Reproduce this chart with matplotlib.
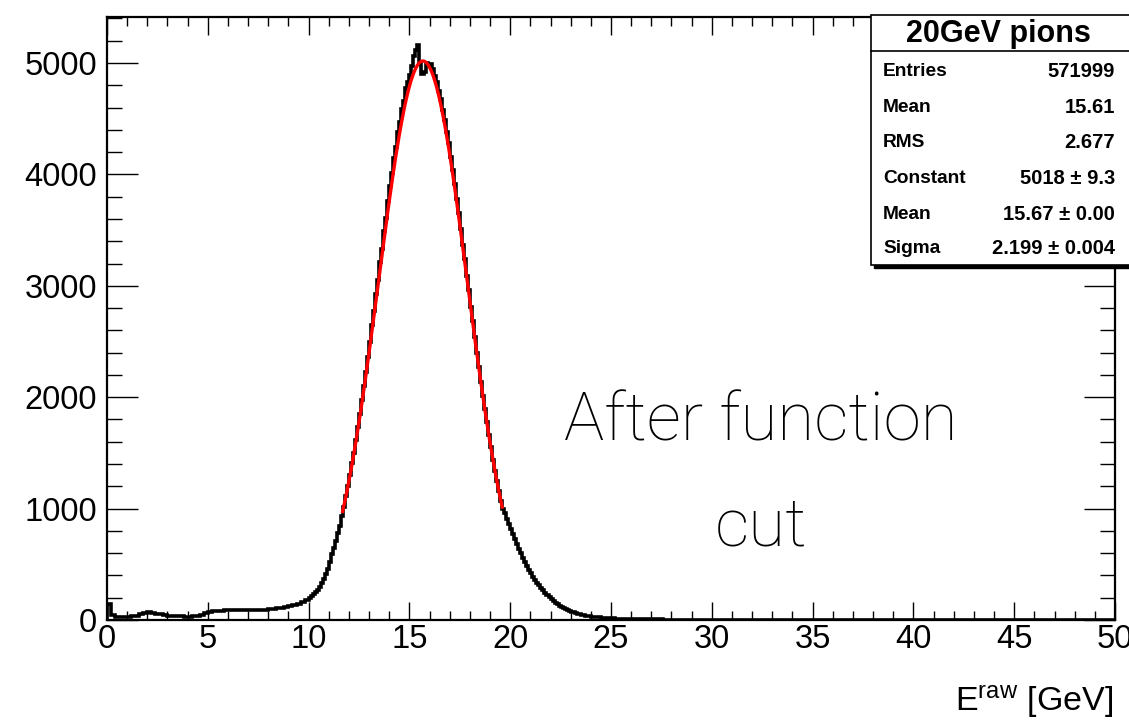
import numpy as np
import matplotlib
matplotlib.use("Agg")
import matplotlib.pyplot as plt
from matplotlib.patches import Rectangle
from matplotlib.lines import Line2D
from matplotlib.ticker import MultipleLocator

plt.rcParams['font.family'] = ['Liberation Sans', 'DejaVu Sans']
plt.rcParams['mathtext.fontset'] = 'custom'
plt.rcParams['mathtext.rm'] = 'Liberation Sans'
plt.rcParams['mathtext.it'] = 'Liberation Sans'

# ---- data: E_raw histogram ----
# 0-10 GeV, 0.2 GeV bins
counts_low = [
    140, 45, 28, 25, 26,        # 0-1
    28, 32, 38, 50, 64,         # 1-2
    68, 66, 58, 50, 44,         # 2-3
    40, 37, 35, 32, 30,         # 3-4
    30, 32, 38, 46, 60,         # 4-5
    72, 78, 82, 84, 86,         # 5-6
    88, 90, 88, 90, 92,         # 6-7
    90, 91, 93, 92, 94,         # 7-8
    96, 100, 106, 112, 120,     # 8-9
    128, 138, 148, 162, 180,    # 9-10
]
# 10-25 GeV, 0.1 GeV bins
counts_mid = [
    200, 212, 232, 250, 272, 298, 330, 368, 412, 460,             # 10-11
    520, 590, 650, 712, 780, 845, 930, 1015, 1115, 1205,          # 11-12
    1300, 1405, 1500, 1620, 1730, 1850, 1975, 2100, 2230, 2365,   # 12-13
    2500, 2650, 2770, 2930, 3050, 3210, 3330, 3490, 3610, 3760,   # 13-14
    3900, 4010, 4150, 4250, 4380, 4470, 4590, 4660, 4780, 4830,   # 14-15
    4890, 4970, 5060, 5120, 5160, 4990, 4900, 4920, 5000, 4990,   # 15-16
    4990, 4950, 4880, 4830, 4750, 4680, 4580, 4490, 4380, 4280,   # 16-17
    4160, 4040, 3910, 3780, 3650, 3510, 3370, 3240, 3090, 2960,   # 17-18
    2810, 2680, 2540, 2400, 2270, 2140, 2015, 1890, 1775, 1660,   # 18-19
    1550, 1440, 1340, 1245, 1155, 1070, 1000, 960, 910, 860,      # 19-20
    815, 770, 725, 685, 640, 600, 560, 520, 485, 450,             # 20-21
    420, 390, 362, 336, 310, 287, 265, 245, 226, 208,             # 21-22
    188, 170, 155, 141, 129, 117, 107, 98, 89, 81,                # 22-23
    74, 68, 62, 57, 52, 47, 43, 40, 37, 34,                       # 23-24
    31, 29, 27, 25, 23, 22, 20, 19, 17, 16,                       # 24-25
]
# 25-50 GeV, 0.2 GeV bins
counts_high = [
    14, 12, 11, 10, 9, 8, 7, 7, 6, 6, 5, 5, 5, 4, 4, 4, 4, 3, 3, 3, 3, 3, 3, 2, 2,   # 25-30
    2, 2, 2, 2, 1, 2, 1, 2, 1, 1, 1, 2, 1, 1, 1, 1, 1, 1, 1, 1, 1, 1, 1, 1, 1,   # 30-35
    1, 1, 1, 1, 1, 1, 1, 1, 1, 1, 1, 1, 1, 1, 1, 1, 1, 1, 1, 1, 1, 1, 1, 1, 1,   # 35-40
    1, 1, 1, 1, 1, 1, 1, 1, 1, 1, 0, 1, 1, 0, 1, 1, 0, 1, 0, 1, 1, 0, 1, 0, 1,   # 40-45
    0, 1, 0, 1, 0, 1, 0, 0, 1, 0, 0, 1, 0, 0, 0, 1, 0, 0, 0, 0, 1, 0, 0, 0, 0,   # 45-50
]
segment_bounds = [0.0, 10.0, 25.0, 50.0]

# Gaussian fit parameters (from stats box)
fit_const = 5018.0
fit_mean = 15.67
fit_sigma = 2.199
fit_range = (11.67, 19.62)

stats_title = "20GeV pions"
stats_labels = ["Entries", "Mean", "RMS", "Constant", "Mean", "Sigma"]
stats_values = ["571999", "15.61", "2.677", "5018 \u00b1 9.3", "15.67 \u00b1 0.00", "2.199 \u00b1 0.004"]

x_ticks = [0, 5, 10, 15, 20, 25, 30, 35, 40, 45, 50]
y_ticks = [0, 1000, 2000, 3000, 4000, 5000]

W, H = 1129, 720
fig = plt.figure(figsize=(W / 100, H / 100), dpi=100)
ax = fig.add_axes([107 / W, 1 - 620 / H, (1115 - 107) / W, (620 - 17) / H])

segs = [counts_low, counts_mid, counts_high]
edges = [np.array([segment_bounds[0]])]
for i, c in enumerate(segs):
    e = np.linspace(segment_bounds[i], segment_bounds[i + 1], len(c) + 1)
    edges.append(e[1:])
edges = np.concatenate(edges)
counts = np.concatenate([np.asarray(c, dtype=float) for c in segs])
ax.stairs(counts, edges, color='black', linewidth=2.6, zorder=3)

xf = np.linspace(fit_range[0], fit_range[1], 300)
yf = fit_const * np.exp(-0.5 * ((xf - fit_mean) / fit_sigma) ** 2)
ax.plot(xf, yf, color='#ff0000', linewidth=2.4, zorder=4, solid_capstyle='butt')

ax.set_xlim(segment_bounds[0], segment_bounds[-1])
ax.set_ylim(0, 5413)
ax.set_xticks(x_ticks)
ax.set_yticks(y_ticks)
ax.xaxis.set_minor_locator(MultipleLocator(1))
ax.yaxis.set_minor_locator(MultipleLocator(200))
for s in ax.spines.values():
    s.set_linewidth(1.6)
ax.tick_params(axis='x', which='major', direction='in', length=13, width=1.0,
               top=True, bottom=True, labelsize=23.5, pad=3)
ax.tick_params(axis='x', which='minor', direction='in', length=6.5, width=1.0,
               top=True, bottom=True)
ax.tick_params(axis='y', which='major', direction='in', length=22, width=1.0,
               left=True, right=True, labelsize=23.5, pad=7)
ax.tick_params(axis='y', which='minor', direction='in', length=11, width=1.0,
               left=True, right=True)

# x-axis title
fig.text(1113 / W, 1 - 711 / H, r'E$^{\mathrm{raw}}$ [GeV]', ha='right', va='baseline', fontsize=24.5)

# annotation text
fig.text(761 / W, 1 - 440 / H, "After function", ha='center', va='baseline',
         fontsize=48.5, family=['Roboto', 'Liberation Sans'], fontweight='light')
fig.text(761 / W, 1 - 545 / H, "cut", ha='center', va='baseline',
         fontsize=48.5, family=['Roboto', 'Liberation Sans'], fontweight='light')

# stats box (pixel coords -> figure fraction)
def fx(px):
    return px / W

def fy(py):
    return 1 - py / H

bx0, bx1, by0, by1 = 871, 1140, 15, 265
fig.add_artist(Rectangle((fx(bx0 + 3), fy(by1 + 3)), fx(bx1) - fx(bx0), fy(by0) - fy(by1),
                         transform=fig.transFigure, facecolor='black', edgecolor='black', zorder=10))
fig.add_artist(Rectangle((fx(bx0), fy(by1)), fx(bx1) - fx(bx0), fy(by0) - fy(by1),
                         transform=fig.transFigure, facecolor='white', edgecolor='black',
                         linewidth=1.2, zorder=11))
fig.add_artist(Line2D([fx(bx0), fx(bx1)], [fy(51), fy(51)], transform=fig.transFigure,
                      color='black', linewidth=1.2, zorder=12))
fig.text(fx(998), fy(42), stats_title, ha='center', va='baseline', fontsize=22,
         fontweight='bold', zorder=13)
row_y = [76, 112, 147, 183, 219, 253]
for lab, val, ry in zip(stats_labels, stats_values, row_y):
    fig.text(fx(883), fy(ry), lab, ha='left', va='baseline', fontsize=13.8,
             fontweight='bold', zorder=13)
    fig.text(fx(1115), fy(ry + 1), val, ha='right', va='baseline', fontsize=14.5,
             fontweight='bold', zorder=13)

fig.savefig("out.png", dpi=100)
